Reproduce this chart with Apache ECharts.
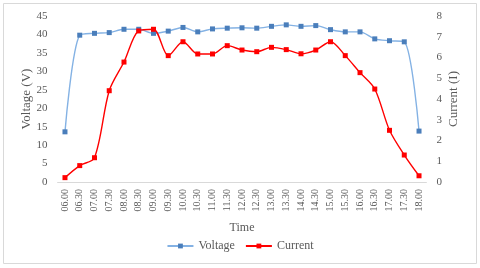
<!DOCTYPE html>
<html><head><meta charset="utf-8">
<script src="https://cdn.jsdelivr.net/npm/echarts@6/dist/echarts.min.js"></script>
<style>html,body{margin:0;padding:0;background:#fff}#c{width:480px;height:268px}</style>
</head><body><div id="c"></div>
<script>
var categories = ['06.00','06.30','07.00','07.30','08.00','08.30','09.00','09.30','10.00','10.30','11.00','11.30','12.00','12.30','13.00','13.30','14.00','14.30','15.00','15.30','16.00','16.30','17.00','17.30','18.00'];
var voltage = [13.6,39.8,40.3,40.5,41.4,41.4,40.3,40.9,41.9,40.7,41.5,41.7,41.8,41.7,42.2,42.6,42.2,42.4,41.3,40.7,40.7,38.8,38.3,38.0,13.8];
var current = [0.21,0.79,1.17,4.40,5.78,7.28,7.36,6.09,6.76,6.17,6.17,6.57,6.36,6.28,6.49,6.38,6.18,6.36,6.76,6.09,5.27,4.48,2.49,1.30,0.30];
var font = 'Liberation Serif';
var txt = '#595959';
var chart = echarts.init(document.getElementById('c'));
chart.setOption({
  animation: false,
  textStyle: {fontFamily: font},
  graphic: [{type:'rect', shape:{x:3.5,y:3.5,width:473,height:260}, style:{fill:'none', stroke:'#d9d9d9', lineWidth:1}}],
  grid: {left: 57.6, right: 53.6, top: 16, bottom: 86},
  legend: {
    bottom: 11, left: 'center', itemWidth: 26, itemHeight: 6, itemGap: 10,
    textStyle: {fontFamily: font, fontSize: 12, color: txt},
    data: ['Voltage','Current']
  },
  xAxis: {
    type: 'category', data: categories, boundaryGap: true,
    name: 'Time', nameLocation: 'middle', nameGap: 40, nameMoveOverlap: false,
    nameTextStyle: {fontFamily: font, fontSize: 12, color: txt},
    axisLine: {lineStyle: {color: '#d9d9d9'}},
    axisTick: {show: false},
    axisLabel: {rotate: 90, interval: 0, fontFamily: font, fontSize: 10, color: txt, margin: 7}
  },
  yAxis: [{
    type: 'value', min: 0, max: 45, interval: 5,
    name: 'Voltage (V)', nameLocation: 'middle', nameGap: 25, nameRotate: 90, nameMoveOverlap: false,
    nameTextStyle: {fontFamily: font, fontSize: 13, color: txt},
    axisLine: {show: false}, axisTick: {show: false}, splitLine: {show: false},
    axisLabel: {fontFamily: font, fontSize: 11, color: txt, margin: 10}
  }, {
    type: 'value', min: 0, max: 8, interval: 1, position: 'right',
    name: 'Current (I)', nameLocation: 'middle', nameGap: 21, nameRotate: 90, nameMoveOverlap: false,
    nameTextStyle: {fontFamily: font, fontSize: 13, color: txt},
    axisLine: {show: false}, axisTick: {show: false}, splitLine: {show: false},
    axisLabel: {fontFamily: font, fontSize: 11, color: txt, margin: 10}
  }],
  series: [{
    name: 'Voltage', type: 'line', yAxisIndex: 0, data: voltage, smooth: 0.3,
    symbol: 'rect', symbolSize: 5,
    lineStyle: {color: '#84b2e4', width: 1.4},
    itemStyle: {color: '#4a7ebb'}
  }, {
    name: 'Current', type: 'line', yAxisIndex: 1, data: current, smooth: 0.3,
    symbol: 'rect', symbolSize: 5,
    lineStyle: {color: '#ff0000', width: 1.4},
    itemStyle: {color: '#ff0000'}
  }]
});
</script></body></html>
